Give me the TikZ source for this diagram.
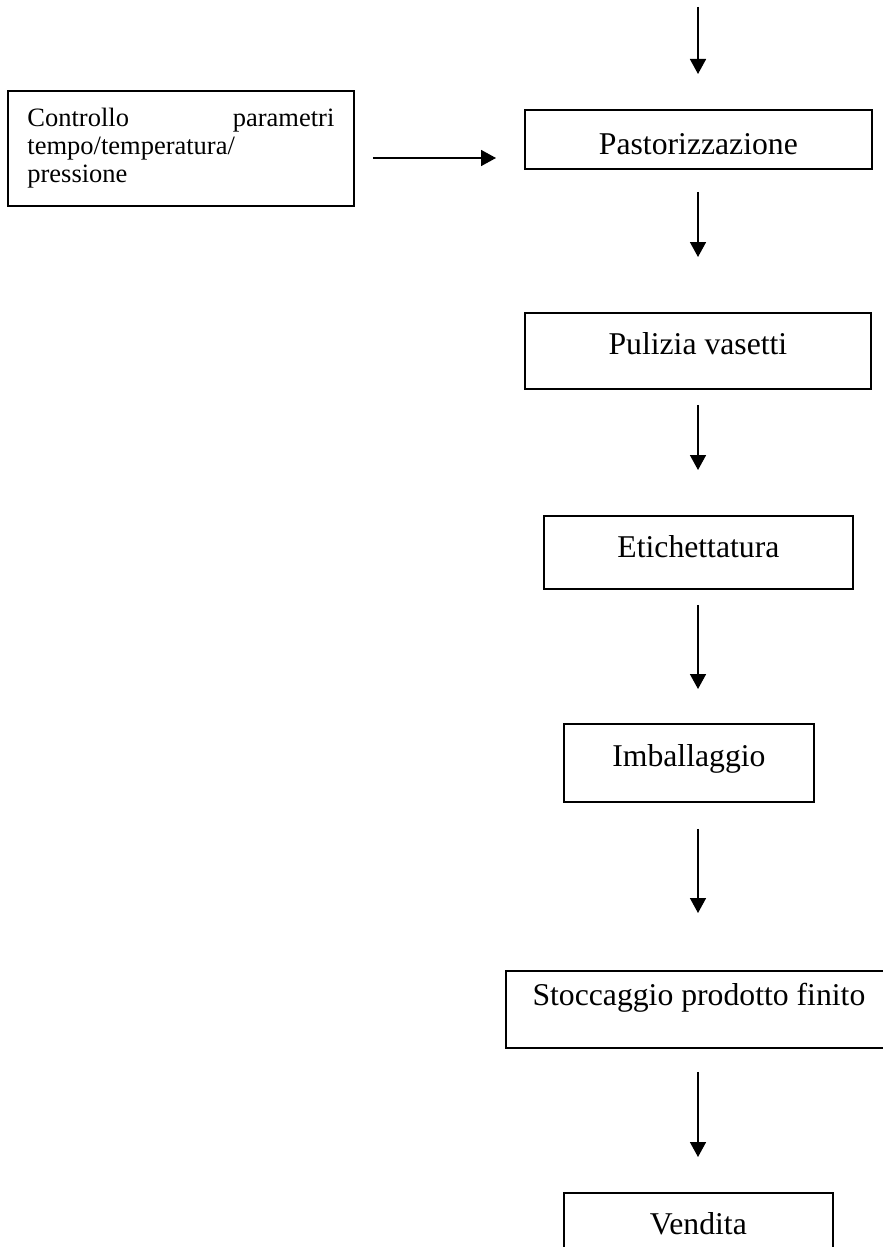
\documentclass[tikz,border=0pt]{standalone}
\usepackage{fontspec}
\setmainfont{Liberation Serif}
\usetikzlibrary{arrows.meta}

\begin{document}
\begin{tikzpicture}[x=1pt,y=-1pt,
  stepbox/.style={draw, line width=1.8pt, inner sep=0pt, anchor=north west,
    font=\fontsize{31.7}{36}\selectfont},
  notebox/.style={draw, line width=1.8pt, anchor=north west, inner xsep=18pt,
    inner ysep=0pt, align=left, font=\fontsize{26.5}{28}\selectfont},
  flow/.style={line width=1.6pt, -{Triangle[width=16pt,length=15pt]}},
]
% page frame
\useasboundingbox (0,0) rectangle (883,1247);
\fill[white] (0,0) rectangle (883,1247);
\clip (0,0) rectangle (883,1247);

% process steps
\node[stepbox, minimum width=347pt, text height=45pt, text depth=14pt] (past) at (524,109) {Pastorizzazione};
\node[stepbox, minimum width=346pt, text height=42pt, text depth=34pt] (puli) at (524,312) {Pulizia vasetti};
\node[stepbox, minimum width=309pt, text height=42pt, text depth=31pt] (etic) at (543,515) {Etichettatura};
\node[stepbox, minimum width=250pt, text height=43pt, text depth=35pt] (imb) at (563,723) {Imballaggio};
\node[stepbox, minimum width=386pt, text height=35pt, text depth=42pt] (stoc) at (505,970) {Stoccaggio prodotto finito};
\node[stepbox, minimum width=269pt, text height=42pt, text depth=36pt] (vend) at (563,1192) {Vendita};

% control note
\node[notebox, minimum width=346pt, minimum height=115pt, text width=307pt] (ctrl) at (7,90)
  {Controllo\hfill parametri\\tempo/temperatura/\\pressione};

% guide coordinates
\coordinate (spine) at (698,0);
\coordinate (src) at (698,7);
\coordinate (hy) at (0,158);

% flow arrows
\draw[flow, shorten >=35pt] (src) -- (spine |- past.north);
\draw[flow, shorten <=22pt, shorten >=55pt] (spine |- past.south) -- (spine |- puli.north);
\draw[flow, shorten <=15pt, shorten >=45pt] (spine |- puli.south) -- (spine |- etic.north);
\draw[flow, shorten <=15pt, shorten >=34pt] (spine |- etic.south) -- (spine |- imb.north);
\draw[flow, shorten <=26pt, shorten >=57pt] (spine |- imb.south) -- (spine |- stoc.north);
\draw[flow, shorten <=23pt, shorten >=35pt] (spine |- stoc.south) -- (spine |- vend.north);
\draw[flow, shorten <=18pt, shorten >=28pt] (ctrl.east |- hy) -- (past.west |- hy);
\end{tikzpicture}
\end{document}
